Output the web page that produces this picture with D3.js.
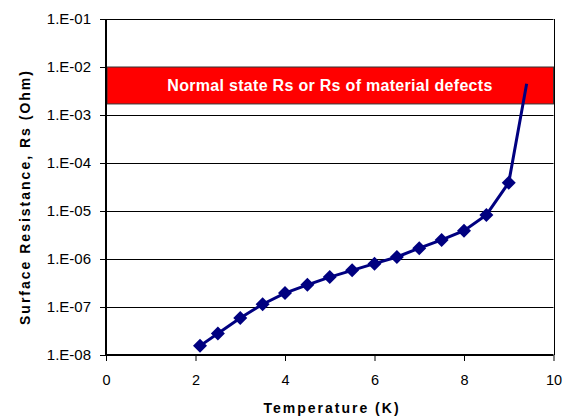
<!DOCTYPE html>
<html><head><meta charset="utf-8">
<script src="https://cdn.jsdelivr.net/npm/d3@7"></script>
<style>body{margin:0;background:#fff}svg{display:block}text{font-family:Arial,"Liberation Sans",sans-serif}</style>
</head><body>
<script>
const temps = [2.1, 2.5, 3.0, 3.5, 4.0, 4.5, 5.0, 5.5, 6.0, 6.5, 7.0, 7.5, 8.0, 8.5, 9.0, 9.4];
const rs = [1.55e-8, 2.8e-8, 5.9e-8, 1.14e-7, 1.95e-7, 2.9e-7, 4.2e-7, 5.8e-7, 8.0e-7, 1.1e-6, 1.68e-6, 2.5e-6, 3.9e-6, 8.3e-6, 3.9e-5, 4.5e-3];
const markerShown = [1,1,1,1,1,1,1,1,1,1,1,1,1,1,1,0];
const bandRange = [1.7e-3, 1e-2];
const bandLabel = "Normal state Rs or Rs of material defects";
const xTicks = [0, 2, 4, 6, 8, 10];
const yTicks = [1e-8, 1e-7, 1e-6, 1e-5, 1e-4, 1e-3, 1e-2, 1e-1];
const yTickLabels = ["1.E-08","1.E-07","1.E-06","1.E-05","1.E-04","1.E-03","1.E-02","1.E-01"];
const xTitle = "Temperature (K)";
const yTitle = "Surface Resistance, Rs (Ohm)";

const W = 566, H = 416;
const L = 106, R = 553.5, T = 19, B = 355;
const svg = d3.select("body").append("svg").attr("width", W).attr("height", H);
const x = d3.scaleLinear().domain([0, 10]).range([L, R]);
const y = d3.scaleLog().domain([1e-8, 1e-1]).range([B, T]);

// gridlines
svg.append("g").selectAll("line").data(yTicks.slice(1)).join("line")
  .attr("x1", L).attr("x2", R)
  .attr("y1", d => Math.round(y(d)) + 0.5).attr("y2", d => Math.round(y(d)) + 0.5)
  .attr("stroke", "#000").attr("stroke-width", 1);
// right border
svg.append("line").attr("x1", Math.round(R)+0.5).attr("x2", Math.round(R)+0.5).attr("y1", T).attr("y2", B).attr("stroke", "#000");

// band
svg.append("rect").attr("x", L + 1).attr("y", y(bandRange[1]))
  .attr("width", R - L - 1).attr("height", y(bandRange[0]) - y(bandRange[1]))
  .attr("fill", "#ff0000").attr("stroke", "#333").attr("stroke-width", 1);
svg.append("text").attr("x", 330).attr("y", (y(bandRange[0]) + y(bandRange[1])) / 2 + 6)
  .attr("text-anchor", "middle").attr("fill", "#fff").attr("font-weight", "bold").attr("font-size", 16)
  .attr("letter-spacing", 0.3).text(bandLabel);

// axes
const yAxis = d3.axisLeft(y).tickValues(yTicks).tickFormat((d, i) => yTickLabels[i]).tickSize(6).tickPadding(9);
const gy = svg.append("g").attr("transform", `translate(${L},0)`).call(yAxis);
gy.select(".domain").attr("stroke-width", 2).attr("d", `M0,${T}V${B}`);
gy.selectAll("text").attr("font-size", 15).attr("fill", "#000").attr("font-family", "Arial, Liberation Sans, sans-serif");
gy.selectAll(".tick line").attr("stroke", "#000");

const xAxis = d3.axisBottom(x).tickValues(xTicks).tickFormat(d3.format("d")).tickSize(6).tickPadding(14);
const gx = svg.append("g").attr("transform", `translate(0,${B})`).call(xAxis);
gx.select(".domain").attr("stroke-width", 2).attr("d", `M${L},0H${R}`);
gx.selectAll("text").attr("font-size", 14.5).attr("fill", "#000").attr("font-family", "Arial, Liberation Sans, sans-serif");

// line
const pts = temps.map((t, i) => [t, rs[i], markerShown[i]]);
svg.append("path").datum(pts)
  .attr("d", d3.line().x(d => x(d[0])).y(d => y(d[1])))
  .attr("fill", "none").attr("stroke", "#000080").attr("stroke-width", 3);
svg.append("g").selectAll("path").data(pts.filter(d => d[2])).join("path")
  .attr("transform", d => `translate(${x(d[0])},${y(d[1])})`)
  .attr("d", "M0,-7L7,0L0,7L-7,0Z").attr("fill", "#000080");

// titles
svg.append("text").attr("x", 332).attr("y", 413).attr("text-anchor", "middle")
  .attr("font-size", 14).attr("font-weight", "bold").attr("letter-spacing", 2).text(xTitle);
svg.append("text").attr("transform", `translate(30,197) rotate(-90)`).attr("text-anchor", "middle")
  .attr("font-size", 14).attr("font-weight", "bold").attr("letter-spacing", 2).text(yTitle);
</script>
</body></html>
